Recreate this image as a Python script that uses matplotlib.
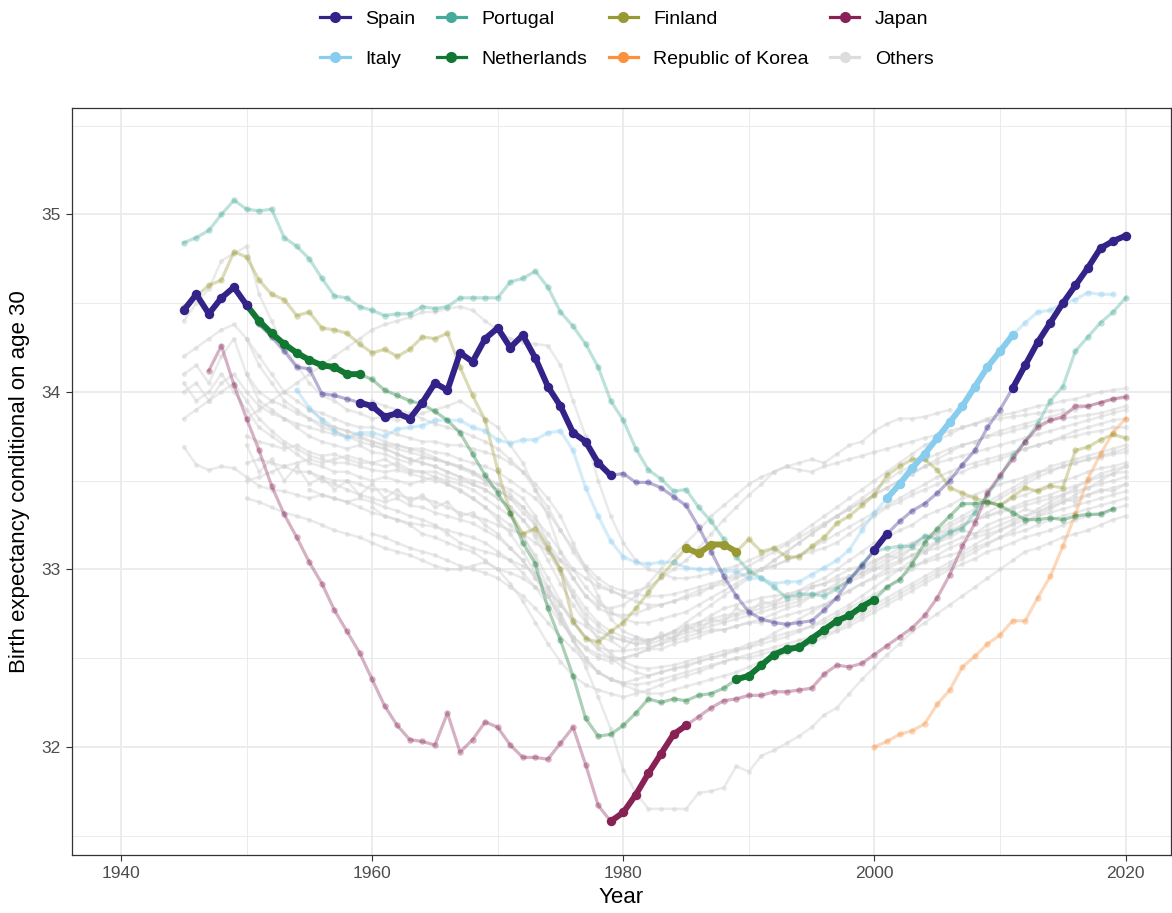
import numpy as np
import matplotlib.pyplot as plt
from matplotlib.lines import Line2D
from matplotlib.ticker import MultipleLocator

plt.rcParams['font.family'] = ['Liberation Sans', 'DejaVu Sans']

# ---- highlighted countries ----
spain_years = np.arange(1945, 2021)
spain = [34.46, 34.55, 34.44, 34.53, 34.59, 34.49, 34.38, 34.31, 34.23, 34.14,
         34.13, 33.99, 33.98, 33.96, 33.94, 33.92, 33.86, 33.88, 33.85, 33.94,
         34.05, 34.01, 34.22, 34.17, 34.30, 34.36, 34.25, 34.32, 34.19, 34.03,
         33.92, 33.77, 33.72, 33.60, 33.53, 33.54, 33.49, 33.49, 33.46, 33.41,
         33.36, 33.24, 33.10, 32.96, 32.85, 32.76, 32.72, 32.70, 32.69, 32.70,
         32.71, 32.77, 32.84, 32.94, 33.02, 33.11, 33.20, 33.27, 33.33, 33.37,
         33.43, 33.50, 33.59, 33.67, 33.80, 33.90, 34.02, 34.15, 34.28, 34.39,
         34.50, 34.60, 34.70, 34.81, 34.85, 34.88]

portugal_years = np.arange(1945, 2021)
portugal = [34.84, 34.87, 34.91, 35.00, 35.08, 35.03, 35.02, 35.03, 34.87, 34.82,
            34.75, 34.64, 34.54, 34.53, 34.48, 34.46, 34.43, 34.44, 34.44, 34.48,
            34.47, 34.48, 34.53, 34.53, 34.53, 34.53, 34.62, 34.64, 34.68, 34.59,
            34.45, 34.37, 34.27, 34.14, 33.95, 33.84, 33.68, 33.56, 33.51, 33.44,
            33.45, 33.35, 33.27, 33.17, 33.07, 32.99, 32.95, 32.90, 32.84, 32.86,
            32.86, 32.85, 32.89, 32.94, 33.03, 33.10, 33.12, 33.13, 33.13, 33.19,
            33.17, 33.21, 33.23, 33.32, 33.42, 33.52, 33.64, 33.72, 33.82, 33.95,
            34.03, 34.23, 34.31, 34.39, 34.45, 34.53]

finland_years = np.arange(1945, 2021)
finland = [34.48, 34.54, 34.60, 34.63, 34.79, 34.76, 34.63, 34.55, 34.52, 34.43,
           34.45, 34.36, 34.35, 34.33, 34.27, 34.22, 34.24, 34.20, 34.24, 34.31,
           34.30, 34.33, 34.14, 33.98, 33.84, 33.56, 33.32, 33.20, 33.23, 33.12,
           33.00, 32.71, 32.61, 32.59, 32.65, 32.70, 32.78, 32.87, 32.96, 33.04,
           33.12, 33.09, 33.14, 33.14, 33.10, 33.17, 33.10, 33.12, 33.07, 33.07,
           33.13, 33.18, 33.26, 33.30, 33.36, 33.42, 33.53, 33.58, 33.62, 33.62,
           33.56, 33.46, 33.43, 33.40, 33.38, 33.36, 33.41, 33.46, 33.44, 33.47,
           33.46, 33.67, 33.69, 33.73, 33.76, 33.74]

japan_years = np.arange(1947, 2021)
japan = [34.12, 34.26, 34.04, 33.85, 33.67, 33.47, 33.31, 33.18, 33.04, 32.92,
         32.77, 32.65, 32.53, 32.38, 32.23, 32.12, 32.04, 32.03, 32.01, 32.19,
         31.97, 32.04, 32.14, 32.11, 32.01, 31.94, 31.94, 31.93, 32.02, 32.11,
         31.90, 31.67, 31.58, 31.63, 31.73, 31.85, 31.96, 32.07, 32.12, 32.17,
         32.22, 32.26, 32.27, 32.29, 32.29, 32.31, 32.31, 32.32, 32.33, 32.41,
         32.46, 32.45, 32.47, 32.52, 32.57, 32.62, 32.67, 32.74, 32.84, 32.97,
         33.13, 33.26, 33.43, 33.53, 33.62, 33.72, 33.80, 33.84, 33.86, 33.92,
         33.92, 33.94, 33.96, 33.97]

italy_years = np.arange(1954, 2020)
italy = [34.01, 33.91, 33.84, 33.78, 33.74, 33.77, 33.77, 33.75, 33.79, 33.80,
         33.81, 33.84, 33.84, 33.84, 33.80, 33.78, 33.73, 33.71, 33.73, 33.73,
         33.77, 33.78, 33.67, 33.46, 33.30, 33.16, 33.07, 33.04, 33.03, 33.04,
         33.04, 33.01, 33.00, 33.00, 32.99, 32.99, 32.95, 32.95, 32.92, 32.93,
         32.93, 32.97, 33.01, 33.05, 33.11, 33.22, 33.32, 33.40, 33.48, 33.57,
         33.65, 33.74, 33.83, 33.92, 34.03, 34.14, 34.23, 34.32, 34.39, 34.45,
         34.46, 34.50, 34.52, 34.56, 34.55, 34.55]

netherlands_years = np.arange(1950, 2020)
netherlands = [34.49, 34.40, 34.33, 34.27, 34.22, 34.18, 34.15, 34.14, 34.10, 34.10,
               34.07, 34.01, 33.98, 33.95, 33.93, 33.89, 33.84, 33.77, 33.65, 33.53,
               33.43, 33.32, 33.15, 33.03, 32.78, 32.60, 32.40, 32.16, 32.06, 32.07,
               32.12, 32.19, 32.27, 32.25, 32.27, 32.26, 32.29, 32.30, 32.33, 32.38,
               32.40, 32.46, 32.52, 32.55, 32.56, 32.61, 32.66, 32.71, 32.74, 32.79,
               32.83, 32.90, 32.94, 33.03, 33.15, 33.23, 33.30, 33.37, 33.37, 33.38,
               33.36, 33.32, 33.28, 33.28, 33.29, 33.28, 33.30, 33.31, 33.31, 33.34]

korea_years = np.arange(2000, 2021)
korea = [32.00, 32.03, 32.07, 32.09, 32.13, 32.24, 32.32, 32.45, 32.51, 32.58,
         32.63, 32.71, 32.71, 32.84, 32.96, 33.13, 33.31, 33.51, 33.65, 33.77, 33.85]

# periods drawn bold (first year, last year)
spain_bold = [(1945, 1950), (1959, 1979), (2000, 2001), (2011, 2020)]
netherlands_bold = [(1950, 1959), (1989, 2000)]
japan_bold = [(1979, 1985)]
finland_bold = [(1985, 1989)]
italy_bold = [(2001, 2011)]

# ---- other countries (grey), first year + yearly values ----
others_start = [1945, 1945, 1945, 1945, 1950, 1950, 1950, 1950, 1955,
                1945, 1960, 1950, 1960, 1955, 1945, 1960, 1950, 1945,
                1950, 1950, 1960, 1955]
others = [
    [34.10, 34.15, 34.05, 34.20, 34.30, 34.10, 33.95, 33.90, 33.85, 33.80,
     33.75, 33.72, 33.70, 33.68, 33.70, 33.66, 33.65, 33.62, 33.60, 33.63,
     33.62, 33.60, 33.58, 33.55, 33.50, 33.48, 33.45, 33.40, 33.30, 33.15,
     33.00, 32.85, 32.75, 32.68, 32.62, 32.60, 32.58, 32.60, 32.62, 32.65,
     32.68, 32.70, 32.72, 32.74, 32.75, 32.78, 32.80, 32.82, 32.85, 32.88,
     32.92, 32.95, 33.00, 33.05, 33.10, 33.15, 33.18, 33.22, 33.25, 33.30,
     33.33, 33.36, 33.40, 33.42, 33.45, 33.48, 33.50, 33.52, 33.55, 33.56,
     33.58, 33.60, 33.62, 33.63, 33.65, 33.66],
    [33.69, 33.59, 33.56, 33.58, 33.57, 33.52, 33.47, 33.45, 33.44, 33.42,
     33.40, 33.42, 33.40, 33.38, 33.40, 33.38, 33.35, 33.33, 33.30, 33.28,
     33.25, 33.20, 33.15, 33.12, 33.10, 33.08, 33.05, 33.02, 32.98, 32.90,
     32.80, 32.70, 32.62, 32.55, 32.50, 32.45, 32.42, 32.40, 32.42, 32.44,
     32.45, 32.48, 32.50, 32.52, 32.55, 32.58, 32.60, 32.62, 32.64, 32.66,
     32.68, 32.70, 32.74, 32.78, 32.82, 32.86, 32.90, 32.95, 33.00, 33.05,
     33.08, 33.12, 33.15, 33.18, 33.20, 33.22, 33.25, 33.28, 33.30, 33.32,
     33.34, 33.36, 33.38, 33.40, 33.42, 33.44],
    [34.40, 34.50, 34.58, 34.74, 34.78, 34.82, 34.55, 34.40, 34.25, 34.15,
     34.05, 33.98, 33.95, 33.90, 33.88, 33.85, 33.86, 33.84, 33.86, 33.88,
     33.90, 33.92, 33.95, 33.90, 33.85, 33.80, 33.70, 33.60, 33.45, 33.30,
     33.10, 32.95, 32.85, 32.78, 32.75, 32.74, 32.75, 32.78, 32.80, 32.82,
     32.85, 32.88, 32.90, 32.92, 32.95, 32.98, 33.00, 33.02, 33.05, 33.08,
     33.10, 33.12, 33.15, 33.20, 33.25, 33.30, 33.35, 33.38, 33.42, 33.45,
     33.48, 33.52, 33.55, 33.58, 33.60, 33.62, 33.65, 33.68, 33.70, 33.72,
     33.75, 33.78, 33.80, 33.82, 33.84, 33.85],
    [34.05, 33.95, 34.00, 34.10, 34.00, 33.90, 33.80, 33.75, 33.70, 33.65,
     33.60, 33.58, 33.55, 33.55, 33.52, 33.50, 33.52, 33.50, 33.48, 33.50,
     33.52, 33.50, 33.48, 33.45, 33.40, 33.35, 33.30, 33.20, 33.05, 32.90,
     32.75, 32.62, 32.55, 32.50, 32.48, 32.50, 32.52, 32.55, 32.55, 32.58,
     32.60, 32.62, 32.65, 32.66, 32.68, 32.70, 32.72, 32.75, 32.78, 32.80,
     32.85, 32.88, 32.92, 32.96, 33.00, 33.04, 33.08, 33.12, 33.15, 33.18,
     33.20, 33.22, 33.25, 33.28, 33.30, 33.33, 33.35, 33.38, 33.40, 33.42,
     33.45, 33.47, 33.50, 33.52, 33.54, 33.55],
    [33.85, 33.90, 33.95, 34.00, 34.05, 34.10, 34.15, 34.20, 34.25, 34.30,
     34.35, 34.38, 34.40, 34.42, 34.45, 34.45, 34.47, 34.48, 34.46, 34.40,
     34.35, 34.30, 34.28, 34.27, 34.26, 34.15, 33.95, 33.75, 33.50, 33.30,
     33.15, 33.05, 33.00, 32.98, 32.95, 32.95, 32.96, 32.98, 33.00, 33.02,
     33.05, 33.08, 33.12, 33.15, 33.20, 33.25, 33.30, 33.35, 33.40, 33.45,
     33.50, 33.55, 33.60, 33.65, 33.70, 33.73, 33.76, 33.80, 33.82, 33.85,
     33.87, 33.88, 33.90, 33.92, 33.93, 33.95, 33.96, 33.98, 34.00, 34.01, 34.02],
    [33.60, 33.62, 33.60, 33.58, 33.55, 33.55, 33.52, 33.50, 33.50, 33.48,
     33.45, 33.45, 33.42, 33.40, 33.40, 33.38, 33.35, 33.32, 33.30, 33.28,
     33.25, 33.22, 33.20, 33.15, 33.10, 33.05, 33.00, 32.95, 32.90, 32.88,
     32.85, 32.88, 32.90, 32.95, 33.00, 33.05, 33.12, 33.20, 33.28, 33.35,
     33.42, 33.48, 33.55, 33.58, 33.60, 33.62, 33.60, 33.65, 33.70, 33.72,
     33.78, 33.82, 33.85, 33.85, 33.86, 33.88, 33.90],
    [33.40, 33.38, 33.35, 33.32, 33.30, 33.28, 33.25, 33.22, 33.20, 33.18,
     33.15, 33.12, 33.10, 33.08, 33.05, 33.02, 33.00, 33.00, 33.02, 33.04,
     33.00, 32.98, 32.95, 32.90, 32.85, 32.75, 32.60, 32.45, 32.28, 32.10,
     31.87, 31.74, 31.65, 31.65, 31.65, 31.65, 31.74, 31.75, 31.77, 31.89,
     31.86, 31.95, 31.98, 32.02, 32.06, 32.11, 32.18, 32.22, 32.30, 32.38,
     32.45, 32.52, 32.58, 32.65, 32.70, 32.75, 32.80, 32.85, 32.90, 32.95,
     33.00, 33.05, 33.10, 33.12, 33.15, 33.18, 33.20, 33.22, 33.25, 33.28, 33.30],
    [33.75, 33.72, 33.70, 33.68, 33.70, 33.66, 33.64, 33.65, 33.62, 33.60,
     33.60, 33.58, 33.60, 33.56, 33.55, 33.55, 33.52, 33.50, 33.48, 33.45,
     33.40, 33.35, 33.28, 33.20, 33.10, 32.98, 32.85, 32.72, 32.60, 32.52,
     32.48, 32.45, 32.44, 32.45, 32.46, 32.48, 32.50, 32.52, 32.54, 32.55,
     32.56, 32.58, 32.60, 32.62, 32.65, 32.68, 32.72, 32.76, 32.80, 32.85,
     32.90, 32.95, 33.00, 33.05, 33.10, 33.15, 33.20, 33.25, 33.28, 33.32,
     33.36, 33.40, 33.42, 33.45, 33.48, 33.50, 33.52, 33.55, 33.57, 33.58, 33.60],
    [33.55, 33.50, 33.48, 33.45, 33.42, 33.40, 33.38, 33.40, 33.36, 33.35,
     33.32, 33.30, 33.28, 33.26, 33.22, 33.18, 33.12, 33.05, 32.95, 32.85,
     32.72, 32.60, 32.50, 32.42, 32.38, 32.36, 32.35, 32.36, 32.38, 32.40,
     32.42, 32.44, 32.46, 32.48, 32.50, 32.52, 32.54, 32.56, 32.58, 32.60,
     32.62, 32.65, 32.68, 32.72, 32.76, 32.80, 32.84, 32.88, 32.92, 32.96,
     33.00, 33.04, 33.08, 33.12, 33.15, 33.18, 33.20, 33.22, 33.25, 33.28,
     33.30, 33.32, 33.34, 33.36, 33.38, 33.40],
    [33.85, 33.90, 33.95, 34.05, 34.10, 34.00, 33.92, 33.88, 33.85, 33.82,
     33.80, 33.78, 33.76, 33.75, 33.74, 33.72, 33.70, 33.70, 33.68, 33.68,
     33.66, 33.65, 33.62, 33.60, 33.58, 33.55, 33.50, 33.45, 33.40, 33.32,
     33.22, 33.12, 33.02, 32.95, 32.90, 32.88, 32.86, 32.85, 32.85, 32.86,
     32.88, 32.90, 32.92, 32.94, 32.96, 32.98, 33.00, 33.02, 33.05, 33.08,
     33.12, 33.16, 33.20, 33.24, 33.28, 33.32, 33.36, 33.40, 33.44, 33.48,
     33.52, 33.55, 33.58, 33.60, 33.62, 33.64, 33.66, 33.68, 33.70, 33.72,
     33.74, 33.75, 33.77, 33.78, 33.80, 33.80],
    [33.20, 33.18, 33.15, 33.12, 33.10, 33.08, 33.05, 33.02, 33.00, 32.98,
     32.95, 32.90, 32.85, 32.78, 32.70, 32.62, 32.55, 32.48, 32.42, 32.38,
     32.35, 32.32, 32.30, 32.30, 32.32, 32.34, 32.36, 32.38, 32.40, 32.42,
     32.45, 32.48, 32.50, 32.53, 32.56, 32.58, 32.62, 32.65, 32.68, 32.72,
     32.76, 32.80, 32.84, 32.88, 32.92, 32.96, 33.00, 33.03, 33.06, 33.10,
     33.12, 33.15, 33.18, 33.20, 33.22, 33.25, 33.28, 33.30, 33.32, 33.34, 33.36],
    [34.30, 34.20, 34.10, 34.00, 33.95, 33.90, 33.85, 33.80, 33.78, 33.75,
     33.72, 33.70, 33.68, 33.66, 33.64, 33.62, 33.60, 33.58, 33.55, 33.52,
     33.48, 33.42, 33.35, 33.25, 33.12, 33.00, 32.88, 32.78, 32.70, 32.65,
     32.62, 32.60, 32.60, 32.62, 32.64, 32.66, 32.68, 32.70, 32.72, 32.74,
     32.76, 32.78, 32.80, 32.82, 32.84, 32.86, 32.88, 32.90, 32.93, 32.96,
     33.00, 33.04, 33.08, 33.12, 33.16, 33.20, 33.24, 33.28, 33.32, 33.36,
     33.40, 33.44, 33.48, 33.52, 33.55, 33.58, 33.60, 33.62, 33.64, 33.66, 33.68],
    [33.95, 33.92, 33.90, 33.88, 33.85, 33.82, 33.80, 33.78, 33.75, 33.72,
     33.68, 33.62, 33.55, 33.45, 33.35, 33.22, 33.10, 33.00, 32.92, 32.88,
     32.85, 32.82, 32.80, 32.80, 32.82, 32.84, 32.86, 32.90, 32.94, 32.98,
     33.02, 33.06, 33.10, 33.14, 33.18, 33.22, 33.26, 33.30, 33.34, 33.38,
     33.42, 33.46, 33.50, 33.54, 33.58, 33.62, 33.66, 33.70, 33.72, 33.75,
     33.76, 33.78, 33.80, 33.82, 33.84, 33.85, 33.86, 33.87, 33.88, 33.90, 33.92],
    [33.45, 33.42, 33.40, 33.38, 33.35, 33.32, 33.30, 33.28, 33.26, 33.25,
     33.24, 33.22, 33.20, 33.18, 33.15, 33.10, 33.05, 32.98, 32.90, 32.80,
     32.70, 32.62, 32.56, 32.52, 32.50, 32.50, 32.52, 32.55, 32.58, 32.62,
     32.66, 32.70, 32.74, 32.78, 32.80, 32.82, 32.84, 32.85, 32.86, 32.88,
     32.90, 32.92, 32.94, 32.96, 32.98, 33.00, 33.02, 33.05, 33.08, 33.10,
     33.12, 33.15, 33.18, 33.20, 33.22, 33.25, 33.28, 33.30, 33.32, 33.35,
     33.38, 33.40, 33.42, 33.44, 33.46, 33.48],
    [34.00, 34.05, 33.95, 34.00, 34.05, 33.95, 33.85, 33.78, 33.72, 33.68,
     33.64, 33.62, 33.60, 33.60, 33.58, 33.56, 33.55, 33.56, 33.54, 33.52,
     33.50, 33.48, 33.45, 33.40, 33.35, 33.30, 33.25, 33.18, 33.08, 32.95,
     32.82, 32.70, 32.62, 32.56, 32.54, 32.54, 32.55, 32.56, 32.58, 32.60,
     32.62, 32.64, 32.66, 32.66, 32.68, 32.70, 32.70, 32.72, 32.74, 32.76,
     32.78, 32.80, 32.84, 32.88, 32.92, 32.95, 32.98, 33.00, 33.02, 33.04,
     33.06, 33.08, 33.10, 33.14, 33.18, 33.22, 33.26, 33.30, 33.34, 33.38,
     33.42, 33.46, 33.50, 33.54, 33.56, 33.58],
    [33.70, 33.68, 33.65, 33.62, 33.60, 33.58, 33.55, 33.52, 33.50, 33.48,
     33.45, 33.40, 33.35, 33.28, 33.20, 33.10, 33.00, 32.90, 32.82, 32.76,
     32.72, 32.70, 32.70, 32.72, 32.74, 32.76, 32.80, 32.84, 32.88, 32.92,
     32.96, 33.00, 33.05, 33.10, 33.15, 33.20, 33.25, 33.30, 33.35, 33.40,
     33.45, 33.50, 33.55, 33.58, 33.62, 33.65, 33.68, 33.70, 33.72, 33.75,
     33.78, 33.80, 33.82, 33.84, 33.86, 33.88, 33.90, 33.92, 33.94, 33.96, 33.98],
    [33.50, 33.52, 33.55, 33.58, 33.60, 33.62, 33.60, 33.62, 33.64, 33.62,
     33.60, 33.62, 33.58, 33.55, 33.55, 33.52, 33.48, 33.44, 33.40, 33.35,
     33.28, 33.20, 33.10, 32.98, 32.85, 32.72, 32.60, 32.50, 32.42, 32.38,
     32.36, 32.38, 32.40, 32.42, 32.44, 32.46, 32.48, 32.50, 32.52, 32.54,
     32.56, 32.60, 32.64, 32.68, 32.72, 32.76, 32.80, 32.84, 32.88, 32.92,
     32.96, 33.00, 33.04, 33.08, 33.12, 33.16, 33.20, 33.24, 33.28, 33.30,
     33.32, 33.34, 33.36, 33.38, 33.40, 33.42, 33.44, 33.46, 33.48, 33.50, 33.52],
    [34.20, 34.25, 34.30, 34.35, 34.38, 34.30, 34.15, 34.05, 33.95, 33.90,
     33.85, 33.80, 33.78, 33.75, 33.72, 33.70, 33.68, 33.65, 33.62, 33.60,
     33.58, 33.55, 33.52, 33.48, 33.45, 33.40, 33.35, 33.28, 33.18, 33.05,
     32.92, 32.80, 32.70, 32.65, 32.62, 32.60, 32.58, 32.58, 32.60, 32.62,
     32.64, 32.66, 32.68, 32.70, 32.72, 32.74, 32.76, 32.78, 32.80, 32.82,
     32.85, 32.88, 32.90, 32.94, 32.98, 33.02, 33.06, 33.10, 33.14, 33.18,
     33.22, 33.26, 33.30, 33.34, 33.38, 33.42, 33.46, 33.50, 33.54, 33.58,
     33.60, 33.62, 33.64, 33.66, 33.68, 33.70],
    [33.70, 33.55, 33.62, 33.50, 33.58, 33.48, 33.52, 33.45, 33.50, 33.42,
     33.48, 33.40, 33.45, 33.38, 33.42, 33.35, 33.38, 33.30, 33.32, 33.25,
     33.20, 33.12, 33.05, 32.95, 32.88, 32.80, 32.72, 32.68, 32.62, 32.60,
     32.55, 32.62, 32.58, 32.64, 32.60, 32.68, 32.65, 32.72, 32.70, 32.78,
     32.75, 32.82, 32.80, 32.86, 32.84, 32.90, 32.92, 32.96, 33.00, 33.02,
     33.05, 33.08, 33.06, 33.12, 33.10, 33.15, 33.18, 33.22, 33.20, 33.25,
     33.28, 33.30, 33.34, 33.32, 33.36, 33.40, 33.38, 33.42, 33.45, 33.44, 33.48],
    [34.10, 34.00, 33.95, 33.92, 33.88, 33.85, 33.82, 33.80, 33.78, 33.76,
     33.75, 33.72, 33.70, 33.68, 33.66, 33.63, 33.60, 33.57, 33.54, 33.50,
     33.45, 33.40, 33.32, 33.25, 33.15, 33.05, 32.95, 32.85, 32.80, 32.78,
     32.80, 32.85, 32.92, 33.00, 33.08, 33.15, 33.22, 33.30, 33.36, 33.42,
     33.48, 33.52, 33.55, 33.58, 33.56, 33.55, 33.58, 33.60, 33.62, 33.64,
     33.66, 33.68, 33.70, 33.72, 33.74, 33.76, 33.78, 33.80, 33.82, 33.84,
     33.85, 33.86, 33.87, 33.88, 33.89, 33.90],
    [33.35, 33.30, 33.28, 33.25, 33.20, 33.18, 33.15, 33.12, 33.10, 33.05,
     33.00, 32.92, 32.82, 32.70, 32.58, 32.48, 32.40, 32.35, 32.32, 32.30,
     32.28, 32.30, 32.32, 32.35, 32.38, 32.40, 32.42, 32.45, 32.48, 32.50,
     32.50, 32.52, 32.54, 32.56, 32.58, 32.60, 32.63, 32.66, 32.70, 32.74,
     32.78, 32.82, 32.86, 32.90, 32.94, 32.98, 33.02, 33.06, 33.10, 33.14,
     33.18, 33.22, 33.26, 33.30, 33.34, 33.38, 33.42, 33.46, 33.50, 33.54, 33.58],
    [33.90, 33.88, 33.85, 33.82, 33.80, 33.80, 33.78, 33.76, 33.74, 33.72,
     33.72, 33.70, 33.70, 33.68, 33.66, 33.64, 33.60, 33.55, 33.48, 33.40,
     33.30, 33.15, 33.00, 32.85, 32.72, 32.65, 32.62, 32.60, 32.62, 32.65,
     32.70, 32.75, 32.80, 32.85, 32.90, 32.95, 33.00, 33.05, 33.10, 33.15,
     33.20, 33.25, 33.30, 33.34, 33.38, 33.42, 33.46, 33.50, 33.54, 33.58,
     33.60, 33.62, 33.64, 33.66, 33.68, 33.70, 33.72, 33.74, 33.76, 33.78,
     33.80, 33.82, 33.84, 33.86, 33.88, 33.90],
]

colors = {'Spain': '#332288', 'Italy': '#88CCEE', 'Portugal': '#44AA99',
          'Netherlands': '#117733', 'Finland': '#999933',
          'Republic of Korea': '#F9913F', 'Japan': '#882255', 'Others': '#DDDDDD'}

highlight = [
    ('Portugal', portugal_years, portugal, []),
    ('Republic of Korea', korea_years, korea, []),
    ('Japan', japan_years, japan, japan_bold),
    ('Finland', finland_years, finland, finland_bold),
    ('Italy', italy_years, italy, italy_bold),
    ('Netherlands', netherlands_years, netherlands, netherlands_bold),
    ('Spain', spain_years, spain, spain_bold),
]

fig = plt.figure(figsize=(11.72, 9.13), dpi=100)
ax = fig.add_axes([0.0614, 0.0635, 0.9376, 0.8182])

for start, vals in zip(others_start, others):
    yrs = np.arange(start, start + len(vals))
    ax.plot(yrs, vals, '-o', color='#D2D2D2', alpha=0.45, lw=1.8, ms=3.6,
            mew=0, zorder=2)

for name, yrs, vals, bold in highlight:
    ax.plot(yrs, vals, '-o', color=colors[name], alpha=0.35, lw=2.3, ms=4.6,
            mew=0, zorder=3)

for name, yrs, vals, bold in highlight:
    vals = np.array(vals)
    for s, e in bold:
        m = (yrs >= s) & (yrs <= e)
        ax.plot(yrs[m], vals[m], '-o', color=colors[name], lw=4.3, ms=6.8,
                mew=0, zorder=5, solid_capstyle='round')

ax.set_xlim(1936.1, 2023.6)
ax.set_ylim(31.39, 35.60)
ax.xaxis.set_major_locator(MultipleLocator(20))
ax.xaxis.set_minor_locator(MultipleLocator(10))
ax.yaxis.set_major_locator(MultipleLocator(1))
ax.yaxis.set_minor_locator(MultipleLocator(0.5))
ax.grid(which='major', color='#EBEBEB', lw=1.3, zorder=0)
ax.grid(which='minor', color='#EBEBEB', lw=0.7, zorder=0)
ax.set_axisbelow(True)
ax.tick_params(which='major', length=4, color='#333333', labelsize=12.5,
               labelcolor='#4D4D4D', pad=4)
ax.tick_params(which='minor', length=0)
for sp in ax.spines.values():
    sp.set_color('#333333')
    sp.set_linewidth(0.9)

ax.set_xlabel('Year', fontsize=16, labelpad=4)
ax.set_ylabel('Birth expectancy conditional on age 30', fontsize=16, labelpad=8)

order = ['Spain', 'Italy', 'Portugal', 'Netherlands', 'Finland',
         'Republic of Korea', 'Japan', 'Others']
handles = [Line2D([0], [0], color=colors[n], lw=2.3, marker='o', ms=7)
           for n in order]
fig.legend(handles, order, loc='upper center', bbox_to_anchor=(0.535, 1.008),
           ncol=4, frameon=False, fontsize=14, handlelength=1.5,
           columnspacing=1.1, labelspacing=1.15, handletextpad=0.8)

fig.savefig('out.png', dpi=100)
